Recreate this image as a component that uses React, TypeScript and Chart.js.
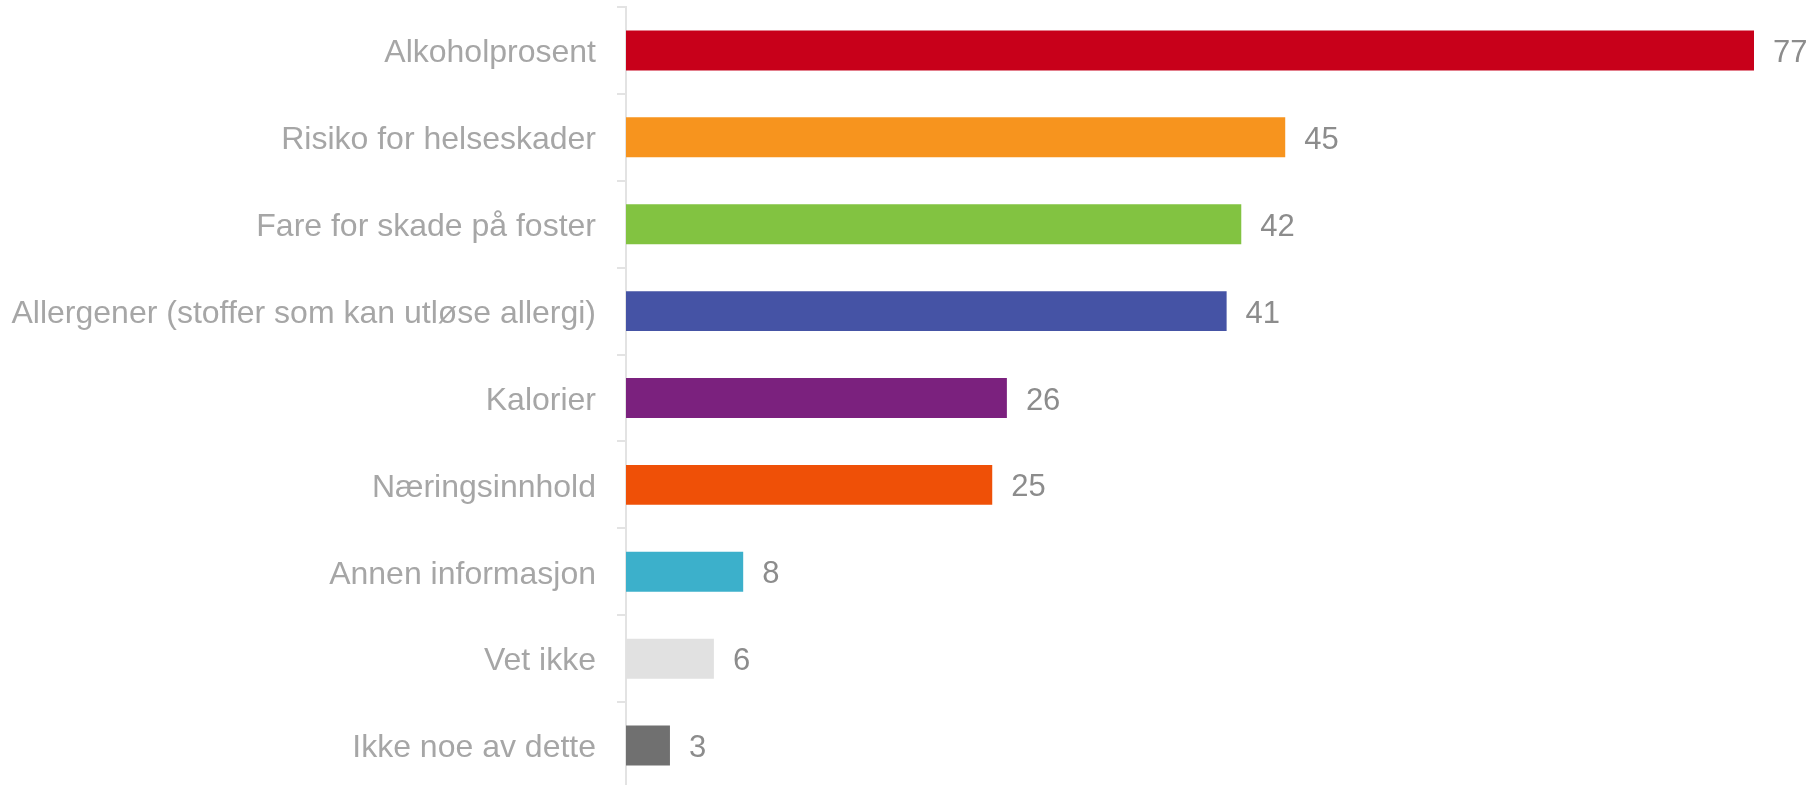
import React, { useEffect, useRef } from "react";
import { Chart, registerables } from "chart.js";

Chart.register(...registerables);

const categories = [
  "Alkoholprosent",
  "Risiko for helseskader",
  "Fare for skade på foster",
  "Allergener (stoffer som kan utløse allergi)",
  "Kalorier",
  "Næringsinnhold",
  "Annen informasjon",
  "Vet ikke",
  "Ikke noe av dette",
];
const values = [77, 45, 42, 41, 26, 25, 8, 6, 3];
const barColors = [
  "#C8001A",
  "#F7941E",
  "#82C341",
  "#4553A5",
  "#7B217E",
  "#EF5007",
  "#3CB0CB",
  "#E1E1E1",
  "#707070",
];

const FONT = "'Liberation Sans', Arial, sans-serif";

const valueLabels = {
  id: "valueLabels",
  afterDatasetsDraw(chart: any) {
    const ctx = chart.ctx;
    const meta = chart.getDatasetMeta(0);
    ctx.save();
    ctx.font = `31px ${FONT}`;
    ctx.fillStyle = "#8C8C8C";
    ctx.textAlign = "left";
    ctx.textBaseline = "middle";
    meta.data.forEach((bar: any, i: number) => {
      ctx.fillText(String(values[i]), bar.x + 19, bar.y + 3);
    });
    ctx.restore();
  },
};

export default function App() {
  const ref = useRef<HTMLCanvasElement | null>(null);
  useEffect(() => {
    document.body.style.margin = "0";
    if (!ref.current) return;
    const chart = new Chart(ref.current, {
      type: "bar",
      data: {
        labels: categories,
        datasets: [
          {
            data: values,
            backgroundColor: barColors,
            borderWidth: 0,
            categoryPercentage: 1,
            barPercentage: 0.46,
          },
        ],
      },
      options: {
        indexAxis: "y",
        animation: false,
        responsive: false,
        maintainAspectRatio: false,
        layout: { padding: { top: 7, right: 57, bottom: 0, left: 0 } },
        plugins: {
          legend: { display: false },
          tooltip: { enabled: false },
        },
        scales: {
          x: {
            display: false,
            min: 0,
            max: 77,
          },
          y: {
            afterFit: (scale: any) => {
              scale.width = 626;
              scale.paddingTop = 0;
              scale.paddingBottom = 0;
            },
            grid: {
              drawOnChartArea: false,
              drawTicks: true,
              tickLength: 9,
              color: "#E3E3E3",
              lineWidth: 2,
            },
            border: { color: "#E3E3E3", width: 2 },
            ticks: {
              padding: 21,
              labelOffset: 3,
              color: "#A6A6A6",
              font: { family: FONT, size: 32 },
            },
          },
        },
      },
      plugins: [valueLabels],
    });
    return () => chart.destroy();
  }, []);
  return (
    <div
      style={{
        position: "fixed",
        left: 0,
        top: 0,
        width: 1811,
        height: 785,
        overflow: "hidden",
        background: "#fff",
      }}
    >
      <canvas ref={ref} width={1811} height={789} style={{ display: "block" }} />
    </div>
  );
}
